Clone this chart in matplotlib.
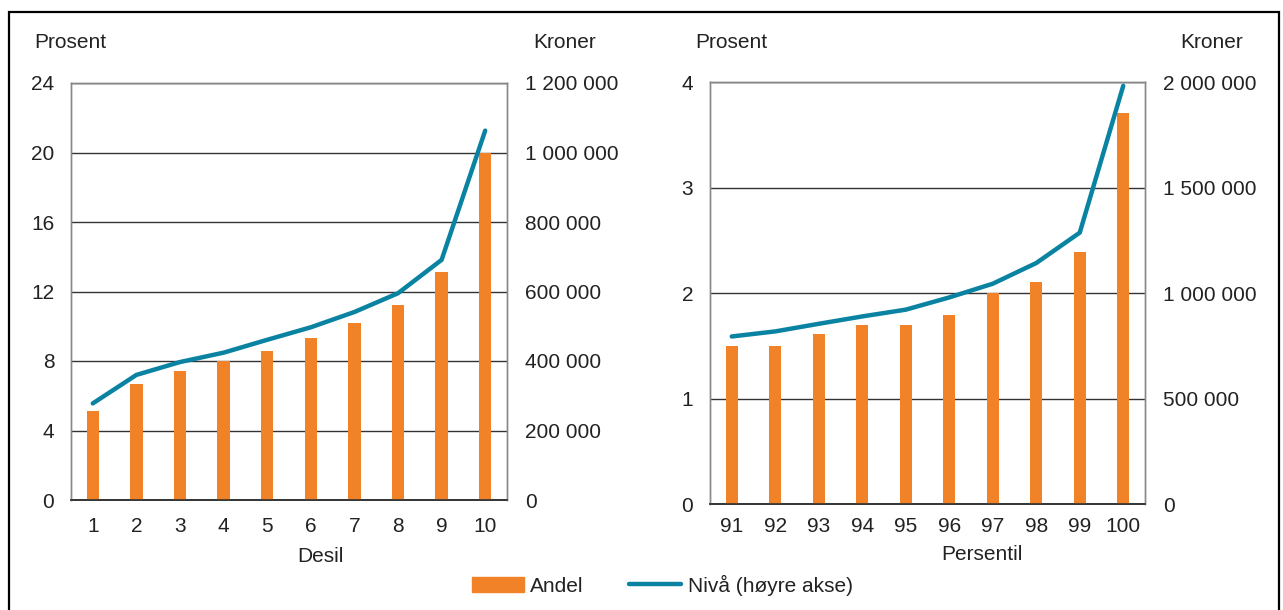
import matplotlib.pyplot as plt
from matplotlib.patches import Rectangle
from matplotlib.ticker import FuncFormatter

# Desil (left panel)
desil = [1, 2, 3, 4, 5, 6, 7, 8, 9, 10]
andel_desil = [5.1, 6.7, 7.4, 8.0, 8.6, 9.3, 10.2, 11.2, 13.1, 20.0]
niva_desil = [278000, 360000, 397000, 424000, 461000, 497000, 541000, 595000, 691000, 1063000]

# Persentil (right panel)
persentil = [91, 92, 93, 94, 95, 96, 97, 98, 99, 100]
andel_pers = [1.5, 1.5, 1.61, 1.7, 1.7, 1.79, 2.0, 2.1, 2.39, 3.71]
niva_pers = [794000, 818000, 854000, 889000, 921000, 979000, 1044000, 1142000, 1286000, 1982000]

orange = '#F28228'
blue = '#0A83A2'
txt = '#222222'
fs = 15

plt.rcParams['font.family'] = ['Liberation Sans', 'DejaVu Sans']
plt.rcParams['font.size'] = fs

W, H = 1283, 610
fig = plt.figure(figsize=(W / 100, H / 100), dpi=100)


def px(x, y):
    return x / W, 1 - y / H


def space_fmt(v, pos):
    return f'{int(round(v)):,}'.replace(',', ' ')


def panel(rect, xs, bars, line, ylim, yticks, y2lim, y2ticks, xlabel, xpad, lpad, lx):
    ax = fig.add_axes(rect)
    ax.bar(xs, bars, width=0.28, color=orange, zorder=3)
    ax.set_xlim(xs[0] - 0.5, xs[-1] + 0.5)
    ax.set_ylim(*ylim)
    ax.set_yticks(yticks)
    ax.set_xticks(xs)
    ax.grid(axis='y', color='#333333', linewidth=1.0)
    ax.set_axisbelow(True)
    ax.set_xlabel(xlabel, color=txt, labelpad=lpad, fontsize=fs)
    ax.xaxis.set_label_coords(lx, ax.xaxis.label.get_position()[1])
    ax.xaxis.label.set_horizontalalignment('center')
    ax.tick_params(length=0, colors=txt, labelsize=fs)
    ax.tick_params(axis='y', pad=12)
    ax.tick_params(axis='x', pad=xpad)

    ax2 = ax.twinx()
    ax2.plot(xs, line, color=blue, linewidth=3.2, solid_capstyle='round',
             solid_joinstyle='round', zorder=4)
    ax2.set_ylim(*y2lim)
    ax2.set_yticks(y2ticks)
    ax2.yaxis.set_major_formatter(FuncFormatter(space_fmt))
    ax2.tick_params(length=0, colors=txt, labelsize=fs, pad=13)

    for a in (ax, ax2):
        for side in ('left', 'right', 'top'):
            a.spines[side].set_color('#888888')
            a.spines[side].set_linewidth(1.0)
        a.spines['bottom'].set_color('#333333')
        a.spines['bottom'].set_linewidth(1.2)
    return ax, ax2


ax_l, _ = panel([71 / W, 110 / H, 436 / W, 417 / H], desil, andel_desil, niva_desil,
                (0, 24), range(0, 25, 4), (0, 1200000), range(0, 1200001, 200000),
                'Desil', 12, 9.5, 0.571)
ax_r, _ = panel([710 / W, 106 / H, 435 / W, 422 / H], persentil, andel_pers, niva_pers,
                (0, 4), range(0, 5), (0, 2000000), range(0, 2000001, 500000),
                'Persentil', 9, 10, 0.625)

# label positions set in pixels (below the tick labels)
ax_l.xaxis.label.set_transform(fig.transFigure)
ax_l.xaxis.label.set_position(px(320, 556))
ax_l.xaxis.label.set_verticalalignment('center')
ax_r.xaxis.label.set_transform(fig.transFigure)
ax_r.xaxis.label.set_position(px(982, 555))
ax_r.xaxis.label.set_verticalalignment('center')

# axis titles
fig.text(*px(34, 43), 'Prosent', ha='left', va='center', color=txt, fontsize=fs)
fig.text(*px(533, 43), 'Kroner', ha='left', va='center', color=txt, fontsize=fs)
fig.text(*px(695, 43), 'Prosent', ha='left', va='center', color=txt, fontsize=fs)
fig.text(*px(1180, 43), 'Kroner', ha='left', va='center', color=txt, fontsize=fs)

# legend
h_bar = Rectangle((0, 0), 1, 1, color=orange)
h_line = plt.Line2D([], [], color=blue, linewidth=3.2, solid_capstyle='round')
leg = fig.legend([h_bar, h_line], ['Andel', 'Nivå (høyre akse)'], ncol=2,
                 loc='center', bbox_to_anchor=px(662, 585), frameon=False,
                 handlelength=2.5, handletextpad=0.3, columnspacing=2.2,
                 fontsize=fs)
for t in leg.get_texts():
    t.set_color(txt)

# outer frame
fig.patches.append(Rectangle(px(9, 640), (1279 - 9) / W, (640 - 12) / H,
                             transform=fig.transFigure, fill=False,
                             edgecolor='black', linewidth=1.6))

fig.savefig('out.png', dpi=100)
